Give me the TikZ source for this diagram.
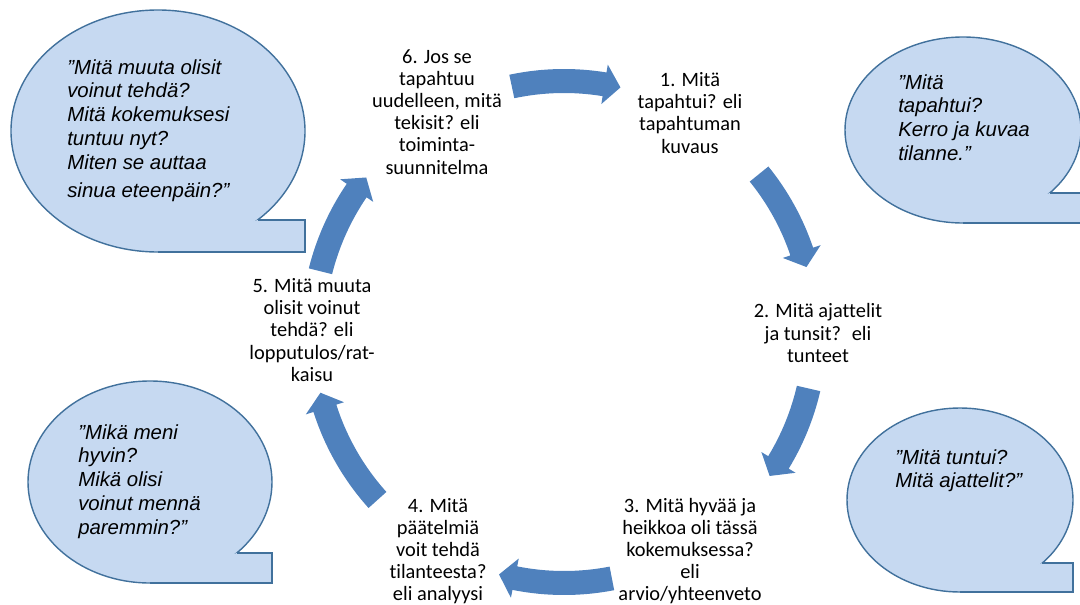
\documentclass[tikz,border=0pt]{standalone}
\usepackage{fontspec}
\setmainfont{Carlito}[Ligatures=CommonOff]
\newfontfamily\quotefont{Liberation Sans}
\usepackage{tikz}
\definecolor{cyclearrow}{RGB}{79,129,189}
\definecolor{bubblefill}{RGB}{198,217,241}
\definecolor{bubbleline}{RGB}{65,113,156}
\tikzstyle{steptext}=[align=center, inner sep=0pt, font=\fontsize{14.5}{15.7}\selectfont]
\tikzstyle{quotetext}=[align=left, anchor=north west, inner sep=0pt, font=\quotefont\itshape\fontsize{14.5}{17}\selectfont]
\tikzstyle{bubble}=[fill=bubblefill, draw=bubbleline, line width=1pt]

% speech bubble: centre x, centre y, x radius, y radius, top of tail
\newcommand{\speechbubble}[5]{%
  \pgfmathsetmacro{\tailx}{#1+#3*sqrt(1-((#5-#2)/#4)^2)}
  \draw[bubble] (#1,#2) ellipse [x radius=#3, y radius=#4];
  \fill[bubblefill] (\tailx,#5) -- ({#1+#3},#5) -- ({#1+#3},{#2+#4}) -- (#1,{#2+#4}) -- cycle;
  \draw[bubbleline, line width=1pt] (\tailx,#5) -- ({#1+#3},#5) -- ({#1+#3},{#2+#4}) -- (#1,{#2+#4});
}

% curved block arrow on the cycle: tail angle, tip angle
\newcommand{\cyclearrow}[2]{%
  \pgfmathsetmacro{\headbase}{#2-3.7}
  \fill[cyclearrow] (#1:263) arc[start angle=#1, end angle=\headbase, radius=263]
    -- (\headbase:271) -- (#2:251) -- (\headbase:231) -- (\headbase:239)
    arc[start angle=\headbase, end angle=#1, radius=239] -- cycle;
}

\begin{document}
\begin{tikzpicture}[x=0.025cm, y=-0.025cm]
 \useasboundingbox (0,0) rectangle (1080,605);
 \clip (0,0) rectangle (1080,605);

 \speechbubble{158}{131}{147}{121}{220}
 \speechbubble{963}{130}{118}{93}{193}
 \speechbubble{960}{500}{113}{92}{563}
 \speechbubble{150}{482}{122}{101}{553}

 \begin{scope}[shift={(564,332)}]
  \foreach \a/\b in {-102/-77, -39/-15, 13/35, 79/105, 138/166, 194/218}
   {\cyclearrow{\a}{\b}}
 \end{scope}

 \node[steptext] (s6) at (437,112) {6. Jos se\\tapahtuu\\uudelleen, mitä\\tekisit? eli\\toiminta-\\suunnitelma};
 \node[steptext] (s1) at (690,113) {1. Mitä\\tapahtui? eli\\tapahtuman\\kuvaus};
 \node[steptext] (s2) at (818,333) {2. Mitä ajattelit\\ja tunsit?~ eli\\tunteet};
 \node[steptext] (s3) at (690,551) {3. Mitä hyvää ja\\heikkoa oli tässä\\kokemuksessa?\\eli\\arvio/yhteenveto};
 \node[steptext] (s4) at (438,551) {4. Mitä\\päätelmiä\\voit tehdä\\tilanteesta?\\eli analyysi};
 \node[steptext] (s5) at (312,330) {5. Mitä muuta\\olisit voinut\\tehdä? eli\\lopputulos/rat-\\kaisu};

 \node[quotetext] (q5) at (67,59) {”Mitä muuta olisit\\voinut tehdä?\\Mitä kokemuksesi\\tuntuu nyt?\\Miten se auttaa\\[3pt]sinua eteenpäin?”};
 \node[quotetext] (q1) at (898,74) {”Mitä\\tapahtui?\\Kerro ja kuvaa\\tilanne.”};
 \node[quotetext] (q2) at (895,449) {”Mitä tuntui?\\Mitä ajattelit?”};
 \node[quotetext] (q3) at (78,424) {”Mikä meni\\hyvin?\\Mikä olisi\\voinut mennä\\paremmin?”};
\end{tikzpicture}
\end{document}
